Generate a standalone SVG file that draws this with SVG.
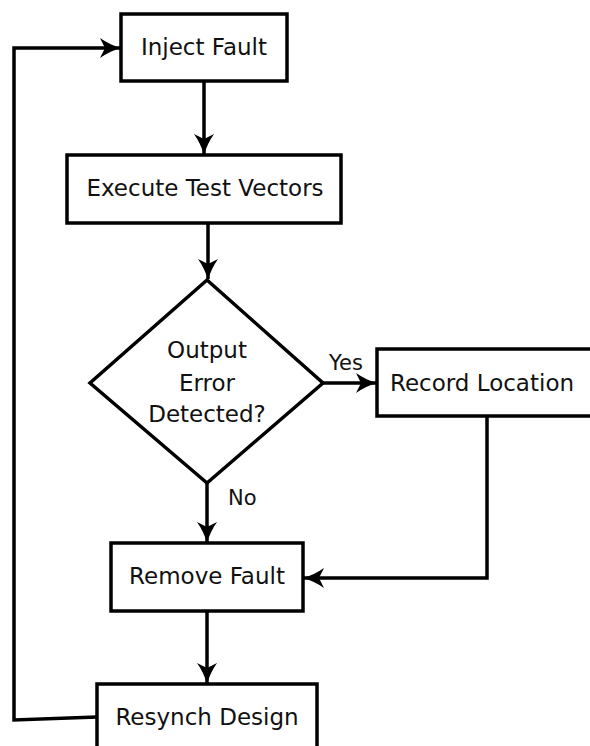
<svg xmlns="http://www.w3.org/2000/svg" width="590" height="746" viewBox="0 0 590 746">
  <style>
    .box { fill: #fff; stroke: #000; stroke-width: 3.5; }
    .lbl { font-family: "DejaVu Sans", sans-serif; font-size: 23px; fill: #111; text-anchor: middle; }
    .tag { font-family: "DejaVu Sans", sans-serif; font-size: 21px; fill: #111; }
    .wire { fill: none; stroke: #000; stroke-width: 3.5; marker-end: url(#head); }
  </style>
  <defs>
    <marker id="head" viewBox="0 0 21 20" refX="20" refY="10" markerWidth="21" markerHeight="20" markerUnits="userSpaceOnUse" orient="auto">
      <path d="M0,0 Q10,7 21,10 Q10,13 0,20 L5,10 z" fill="#000"/>
    </marker>
  </defs>
  <rect width="590" height="746" fill="#fff"/>

  <g id="connectors">
    <!-- main flow -->
    <path class="wire" d="M204,81 V154"/>
    <path class="wire" d="M208,223 V279"/>
    <path class="wire" d="M323,383 H376"/>
    <path class="wire" d="M207,483 V542"/>
    <path class="wire" d="M207,611 V683"/>
    <!-- record location back to remove fault -->
    <path class="wire" d="M487,416 V578 H304"/>
    <!-- resynch loops back to inject -->
    <path class="wire" d="M97,717 L14,720 V48 H120"/>
    <text class="tag" x="329" y="370">Yes</text>
    <text class="tag" x="228" y="505">No</text>
  </g>

  <g id="inject">
    <rect class="box" x="121" y="14" width="166" height="67"/>
    <text class="lbl" x="204" y="55">Inject Fault</text>
  </g>

  <g id="execute">
    <rect class="box" x="67" y="155" width="274" height="68"/>
    <text class="lbl" x="205" y="196">Execute Test Vectors</text>
  </g>

  <g id="decision">
    <polygon class="box" points="207,280 323,383 207,483 90,383"/>
    <text class="lbl" x="207" y="358">Output</text>
    <text class="lbl" x="207" y="391">Error</text>
    <text class="lbl" x="207" y="422">Detected?</text>
  </g>

  <g id="record">
    <rect class="box" x="377" y="349" width="220" height="67"/>
    <text class="lbl" x="482" y="391">Record Location</text>
  </g>

  <g id="remove">
    <rect class="box" x="111" y="543" width="192" height="68"/>
    <text class="lbl" x="207" y="584">Remove Fault</text>
  </g>

  <g id="resynch">
    <rect class="box" x="97" y="684" width="220" height="70"/>
    <text class="lbl" x="207" y="725">Resynch Design</text>
  </g>
</svg>
